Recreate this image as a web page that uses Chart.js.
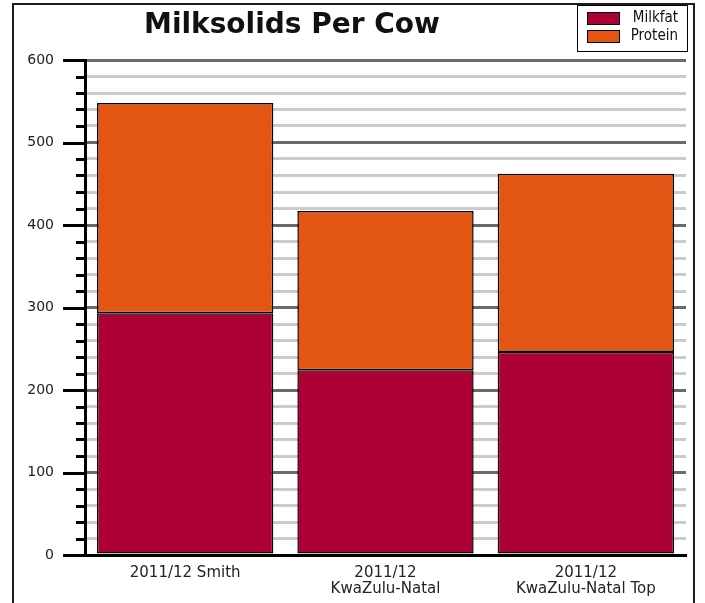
<!DOCTYPE html>
<html>
<head>
<meta charset="utf-8">
<script src="https://cdn.jsdelivr.net/npm/chart.js@4/dist/chart.umd.min.js"></script>
<style>
  html, body { margin: 0; padding: 0; background: #fff; }
  #wrap { position: relative; width: 705px; height: 603px; overflow: hidden; }
  #frame { position: absolute; left: 12px; top: 3px; width: 679px; height: 700px; border: 2px solid #1c1c1c; }
  #chart { position: absolute; left: 0; top: 0; }
  #title { position: absolute; left: 92px; width: 400px; top: 7px; text-align: center;
           font: bold 28px "DejaVu Sans", sans-serif; color: #111; }
  #legend { position: absolute; left: 577px; top: 5px; width: 109px; height: 45px;
            border: 1px solid #000; background: #fff; font: 15px "DejaVu Sans Condensed", "DejaVu Sans", sans-serif; color: #111; }
  .row { position: absolute; left: 9px; right: 9px; height: 14px; }
  .sw { position: absolute; left: 0; top: 0; width: 31px; height: 11px; border: 1px solid #000; }
  .lbl { position: absolute; right: 0; top: -4px; }
</style>
</head>
<body>
<div id="wrap">
  <div id="frame"></div>
  <canvas id="chart" width="705" height="603"></canvas>
  <div id="title">Milksolids Per Cow</div>
  <div id="legend"></div>
</div>
<script>
// Farm comparison, kg milksolids per cow
const categories = [
  ['2011/12 Smith'],
  ['2011/12', 'KwaZulu-Natal'],
  ['2011/12', 'KwaZulu-Natal Top']
];
const milkfat = [293, 224, 246];
const protein = [255, 193, 216];
const yMajorTicks = [0, 100, 200, 300, 400, 500, 600];
const yMinorStep = 20;

// Axis tick marks: long ones at labelled values, short ones in between
const tickMarks = {
  id: 'tickMarks',
  afterDraw(chart) {
    const ys = chart.scales.y;
    const ctx = chart.ctx;
    const x0 = ys.right;
    ctx.save();
    ctx.strokeStyle = '#000';
    ctx.lineWidth = 3;
    for (let v = ys.min; v <= ys.max; v += yMinorStep) {
      const y = Math.round(ys.getPixelForValue(v)) + 0.5;
      const len = yMajorTicks.includes(v) ? 22 : 9;
      ctx.beginPath();
      ctx.moveTo(x0 - len, y);
      ctx.lineTo(x0, y);
      ctx.stroke();
    }
    ctx.restore();
  }
};

const chart = new Chart(document.getElementById('chart'), {
  type: 'bar',
  data: {
    labels: categories,
    datasets: [
      { label: 'Milkfat', data: milkfat, backgroundColor: '#AD0035', borderColor: '#000', borderWidth: 1.5, borderSkipped: false },
      { label: 'Protein', data: protein, backgroundColor: '#E35512', borderColor: '#000', borderWidth: 1.5, borderSkipped: false }
    ]
  },
  options: {
    responsive: false,
    animation: false,
    layout: { padding: { top: 60, right: 19, left: 0, bottom: 0 } },
    plugins: { legend: { display: false }, title: { display: false }, tooltip: { enabled: false } },
    datasets: { bar: { barPercentage: 0.88, categoryPercentage: 1.0 } },
    scales: {
      x: {
        stacked: true,
        z: 1,
        afterFit(s) { s.height = 48; },
        grid: { display: false, drawTicks: false },
        border: { display: true, color: '#000', width: 3 },
        ticks: { color: '#222', padding: 10, font: { family: 'DejaVu Sans', size: 15, lineHeight: 1.05 }, maxRotation: 0 }
      },
      y: {
        stacked: true,
        min: 0,
        max: 600,
        afterFit(s) { s.width = 85; },
        grid: {
          drawTicks: false,
          lineWidth: 3,
          color: (c) => (c.tick && yMajorTicks.includes(c.tick.value)) ? '#6a6a6a' : '#cbcbcb'
        },
        border: { display: true, color: '#000', width: 3 },
        ticks: {
          stepSize: yMinorStep,
          autoSkip: false,
          padding: 31,
          color: '#222',
          font: { family: 'DejaVu Sans', size: 14 },
          callback: (v) => yMajorTicks.includes(v) ? String(v) : ''
        }
      }
    }
  },
  plugins: [tickMarks]
});

// Legend built from the chart's datasets
const legend = document.getElementById('legend');
chart.data.datasets.forEach((ds, i) => {
  const row = document.createElement('div');
  row.className = 'row';
  row.style.top = (6 + i * 18) + 'px';
  const sw = document.createElement('div');
  sw.className = 'sw';
  sw.style.background = ds.backgroundColor;
  const lbl = document.createElement('div');
  lbl.className = 'lbl';
  lbl.textContent = ds.label;
  row.appendChild(sw);
  row.appendChild(lbl);
  legend.appendChild(row);
});
</script>
</body>
</html>
